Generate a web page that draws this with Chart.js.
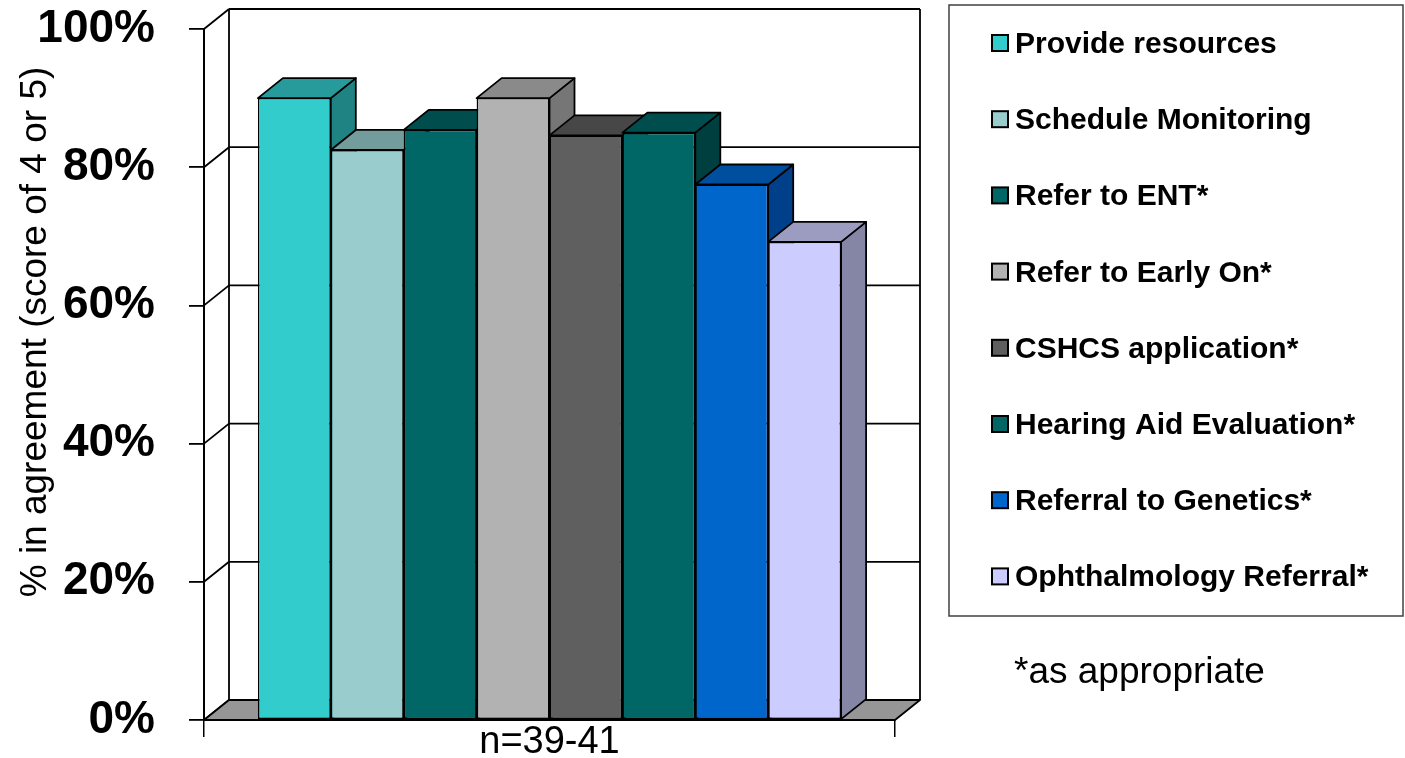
<!DOCTYPE html>
<html>
<head>
<meta charset="utf-8">
<script src="https://cdn.jsdelivr.net/npm/chart.js@4"></script>
<style>
  html, body { margin: 0; padding: 0; background: #fff; }
  canvas { display: block; }
</style>
</head>
<body>
<canvas id="barChart" width="1405" height="758"></canvas>
<script>
// data
const seriesNames = [
    'Provide resources',
    'Schedule Monitoring',
    'Refer to ENT*',
    'Refer to Early On*',
    'CSHCS application*',
    'Hearing Aid Evaluation*',
    'Referral to Genetics*',
    'Ophthalmology Referral*'
];
const seriesValues = [90, 82.5, 85.4, 90, 84.6, 85, 77.5, 69.2];
const categoryLabels = ['n=39-41'];
const yTitle = '% in agreement (score of 4 or 5)';
const footNote = '*as appropriate';

// colours: front face, top face, side face
const frontColors = ['#33CCCC', '#99CCCC', '#006666', '#B2B2B2', '#5F5F5F', '#006666', '#0066CC', '#CCCCFF'];
const topColors   = ['#279B9B', '#739C9C', '#004D4D', '#8A8A8A', '#474747', '#004D4D', '#004E9E', '#9C9CC0'];
const sideColors  = ['#1F8383', '#638787', '#003F3F', '#767676', '#3C3C3C', '#003F3F', '#00408A', '#8585A6'];

const FONT = "'Liberation Sans', Arial, sans-serif";
const DX = 25, DY = 20;   // depth offset of the 3d box

function poly(ctx, pts, fill) {
    ctx.beginPath();
    ctx.moveTo(pts[0][0], pts[0][1]);
    for (let i = 1; i < pts.length; i++) ctx.lineTo(pts[i][0], pts[i][1]);
    ctx.closePath();
    if (fill) { ctx.fillStyle = fill; ctx.fill(); }
    ctx.stroke();
}
function line(ctx, x1, y1, x2, y2) {
    ctx.beginPath();
    ctx.moveTo(x1, y1);
    ctx.lineTo(x2, y2);
    ctx.stroke();
}

// back wall, floor and the top/side faces of the bars
const box3d = {
    id: 'box3d',
    beforeDatasetsDraw(chart) {
        const { ctx, chartArea: a, scales: { y } } = chart;
        ctx.save();
        ctx.strokeStyle = '#000';
        ctx.lineWidth = 1.8;
        ctx.lineJoin = 'round';
        y.ticks.forEach(t => {
            const py = y.getPixelForValue(t.value);
            line(ctx, a.left, py, a.left + DX, py - DY);
            line(ctx, a.left + DX, py - DY, a.right + DX, py - DY);
        });
        line(ctx, a.left + DX, a.top - DY, a.left + DX, a.bottom - DY);
        line(ctx, a.right + DX, a.top - DY, a.right + DX, a.bottom - DY);
        poly(ctx, [[a.left, a.bottom], [a.right, a.bottom], [a.right + DX, a.bottom - DY], [a.left + DX, a.bottom - DY]], '#969696');

        ctx.lineWidth = 1.8;
        chart.data.datasets.forEach((ds, i) => {
            const bar = chart.getDatasetMeta(i).data[0];
            const L = bar.x - bar.width / 2, R = bar.x + bar.width / 2;
            const T = bar.y, B = bar.base;
            poly(ctx, [[R, T], [R + DX, T - DY], [R + DX, B - DY], [R, B]], sideColors[i]);
            poly(ctx, [[L, T], [R, T], [R + DX, T - DY], [L + DX, T - DY]], topColors[i]);
        });
        ctx.restore();
    }
};

// legend box, axis title and footnote
const extras = {
    id: 'extras',
    afterDraw(chart) {
        const ctx = chart.ctx;
        ctx.save();

        // legend
        ctx.strokeStyle = '#404040';
        ctx.lineWidth = 1.5;
        ctx.strokeRect(949, 5, 454, 611);
        ctx.font = 'bold 30px ' + FONT;
        ctx.textBaseline = 'alphabetic';
        ctx.textAlign = 'left';
        chart.data.datasets.forEach((ds, i) => {
            const cy = 43 + i * 76.2;
            ctx.fillStyle = ds.backgroundColor;
            ctx.fillRect(992, cy - 8, 16, 16);
            ctx.strokeStyle = '#000';
            ctx.lineWidth = 2;
            ctx.strokeRect(992, cy - 8, 16, 16);
            ctx.fillStyle = '#000';
            ctx.fillText(ds.label, 1015, cy + 10);
        });

        // footnote
        ctx.font = '37px ' + FONT;
        ctx.fillText(footNote, 1014, 683);

        // y axis title
        ctx.translate(46, 332);
        ctx.rotate(-Math.PI / 2);
        ctx.textAlign = 'center';
        ctx.fillText(yTitle, 0, 0);
        ctx.restore();
    }
};

const ctx = document.getElementById('barChart').getContext('2d');
const barChart = new Chart(ctx, {
    type: 'bar',
    data: {
        labels: categoryLabels,
        datasets: seriesNames.map((name, i) => ({
            label: name,
            data: [seriesValues[i]],
            backgroundColor: frontColors[i],
            borderColor: '#000',
            borderWidth: 1.5,
            borderSkipped: false,
            categoryPercentage: 0.844,
            barPercentage: 1
        }))
    },
    options: {
        responsive: false,
        animation: false,
        devicePixelRatio: 1,
        layout: {
            padding: { left: 0, right: 510, top: 29, bottom: 0 }
        },
        plugins: {
            legend: { display: false },
            tooltip: { enabled: false }
        },
        scales: {
            x: {
                afterFit(scale) {
                    scale.height = 38;
                    scale.paddingLeft = 0;
                    scale.paddingRight = 0;
                },
                grid: {
                    drawOnChartArea: false,
                    color: '#000',
                    lineWidth: 1.5,
                    tickLength: 17
                },
                border: { display: true, color: '#000', width: 2 },
                ticks: {
                    color: '#000',
                    padding: -17,
                    font: { family: FONT, size: 38 }
                }
            },
            y: {
                min: 0,
                max: 100,
                afterFit(scale) {
                    scale.width = 204;
                    scale.paddingTop = 0;
                    scale.paddingBottom = 0;
                },
                grid: {
                    drawOnChartArea: false,
                    color: '#000',
                    lineWidth: 1.8,
                    tickLength: 15
                },
                border: { display: true, color: '#000', width: 2 },
                ticks: {
                    stepSize: 20,
                    color: '#000',
                    padding: 34,
                    font: { family: FONT, size: 46, weight: 'bold' },
                    callback: v => v + '%'
                }
            }
        }
    },
    plugins: [box3d, extras]
});
</script>
</body>
</html>
